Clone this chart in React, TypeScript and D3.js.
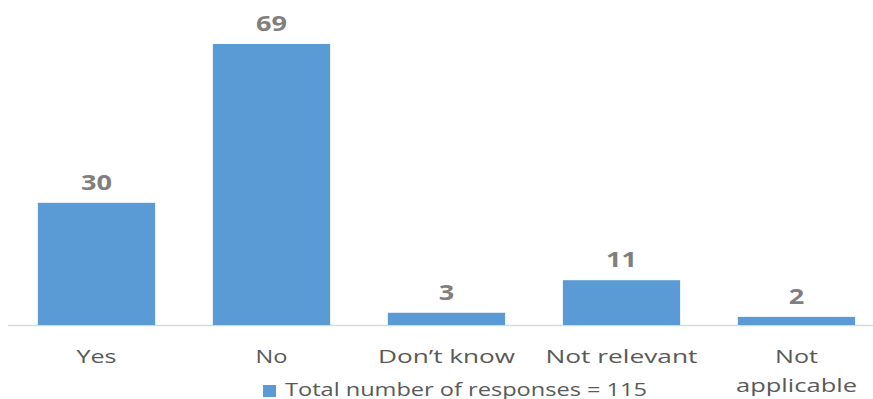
import React from "react";
import * as d3 from "d3";

const categories: string[][] = [["Yes"], ["No"], ["Don’t know"], ["Not relevant"], ["Not", "applicable"]];
const values: number[] = [30, 69, 3, 11, 2];
const legendLabel = "Total number of responses = 115";

// layout: rendered widths of texts (the reference font is wide)
const labelWidth: Record<string, number> = {
  Yes: 40,
  No: 32,
  "Don’t know": 137,
  "Not relevant": 152,
  Not: 43,
  applicable: 121,
};
const digitWidth = 15.5;
const legendWidth = 362;

const W = 873;
const H = 399;
const FONT = "'Open Sans', 'DejaVu Sans', sans-serif";

export default function App() {
  const keys = categories.map((c) => c.join(" "));
  const x = d3.scaleBand<string>().domain(keys).range([9, 884]).paddingInner(0.33).paddingOuter(0.165);
  const y = d3.scaleLinear().domain([0, d3.max(values) as number]).range([325, 44]);

  return (
    <svg width={W} height={H} style={{ position: "absolute", left: 0, top: 0, background: "#fff" }}>
      <line x1={8} x2={W} y1={y(0) + 0.5} y2={y(0) + 0.5} stroke="#d9d9d9" strokeWidth={1.5} />
      {values.map((v, i) => {
        const k = keys[i];
        const bx = x(k) as number;
        const bw = x.bandwidth();
        const cx = bx + bw / 2;
        const vs = String(v);
        return (
          <g key={k}>
            <rect x={bx} y={y(v)} width={bw} height={y(0) - y(v)} fill="#5b9bd5" />
            <text
              x={cx - (vs.length * digitWidth) / 2}
              y={y(v) - 13}
              fontFamily={FONT}
              fontWeight="bold"
              fontSize={21}
              fill="#7f7f7f"
              textLength={vs.length * digitWidth}
              lengthAdjust="spacingAndGlyphs"
            >
              {vs}
            </text>
            {categories[i].map((line, j) => (
              <text
                key={j}
                x={cx - labelWidth[line] / 2}
                y={363 + j * 29}
                fontFamily={FONT}
                fontSize={19}
                fill="#595959"
                textLength={labelWidth[line]}
                lengthAdjust="spacingAndGlyphs"
              >
                {line}
              </text>
            ))}
          </g>
        );
      })}
      <rect x={263} y={385} width={13} height={12} fill="#5b9bd5" />
      <text
        x={285}
        y={396}
        fontFamily={FONT}
        fontSize={19}
        fill="#595959"
        textLength={legendWidth}
        lengthAdjust="spacingAndGlyphs"
      >
        {legendLabel}
      </text>
    </svg>
  );
}
